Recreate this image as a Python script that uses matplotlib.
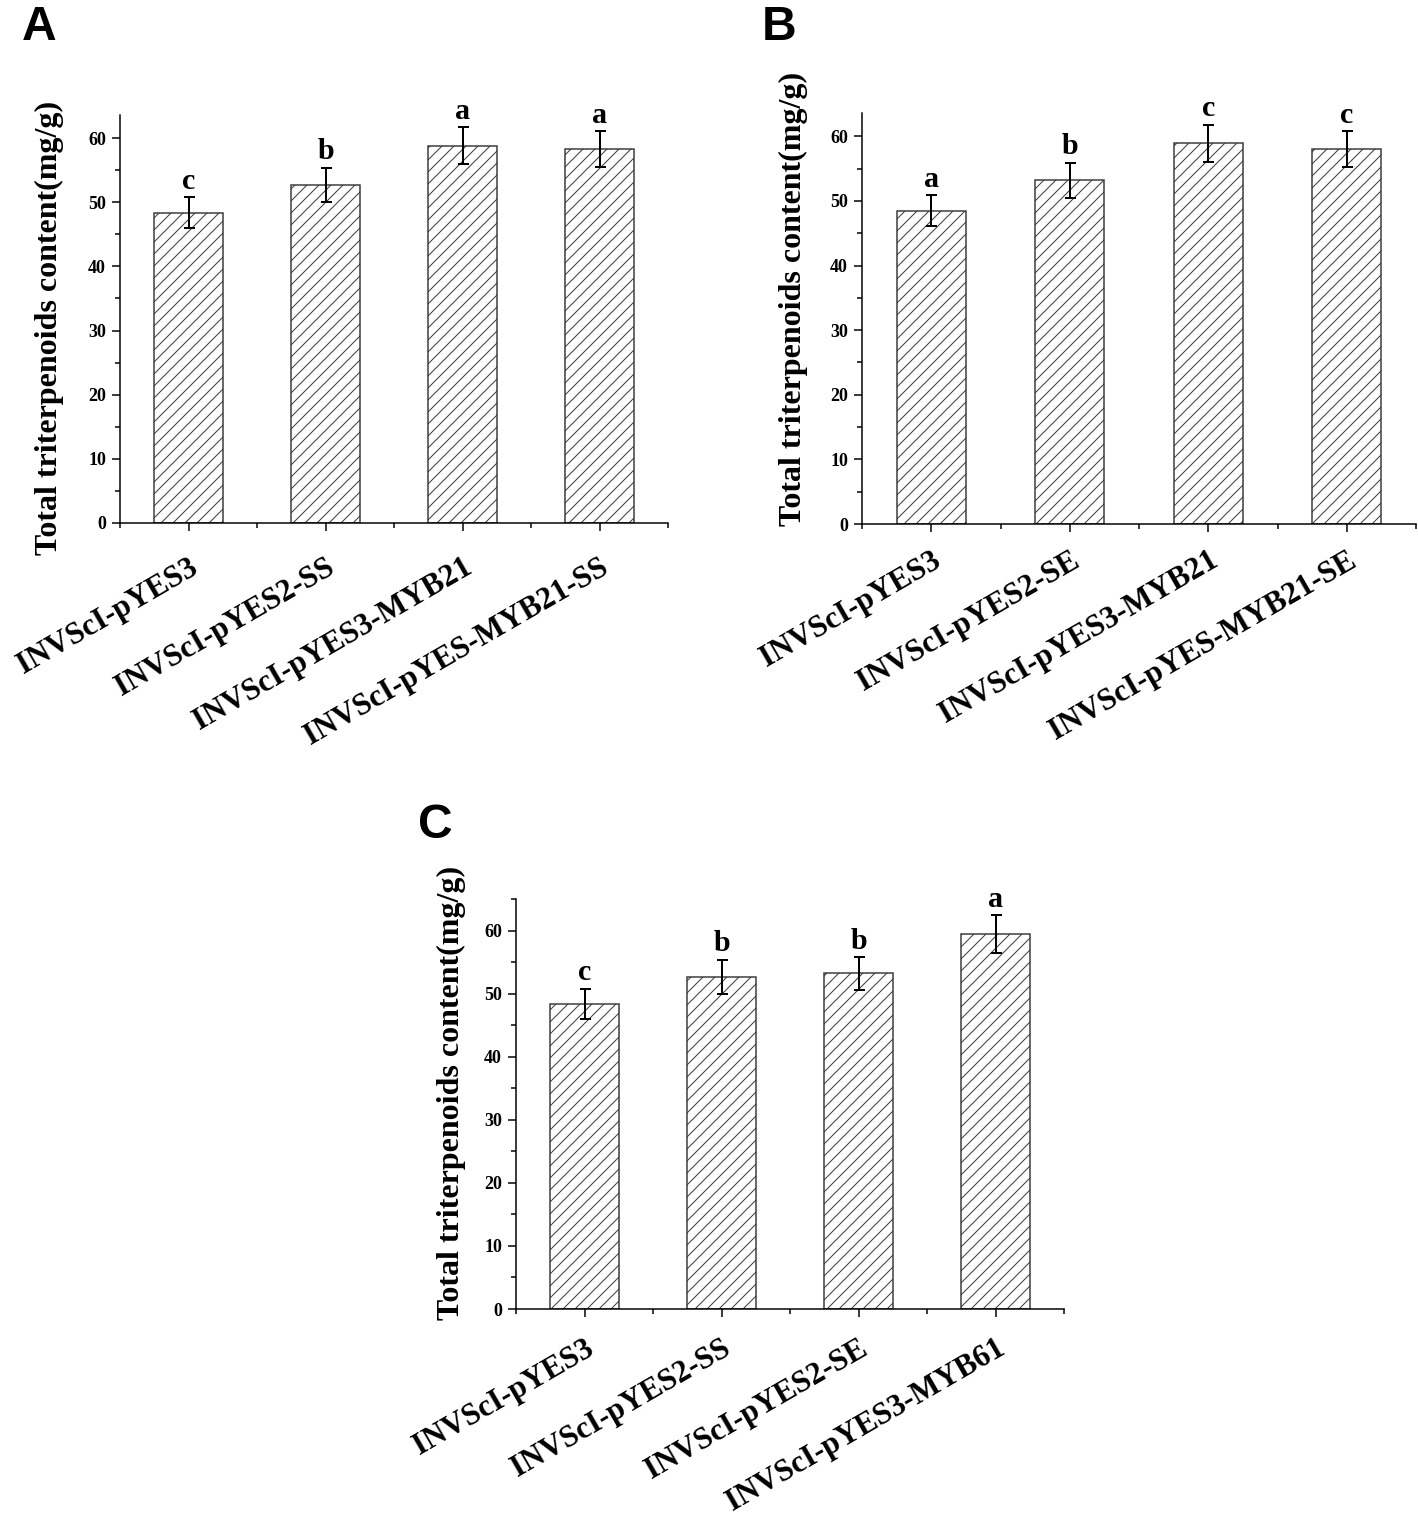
import numpy as np
import matplotlib
matplotlib.use("Agg")
import matplotlib.pyplot as plt
from matplotlib.ticker import MultipleLocator

# data
labels_a = ["INVScI-pYES3", "INVScI-pYES2-SS", "INVScI-pYES3-MYB21", "INVScI-pYES-MYB21-SS"]
values_a = [48.4, 52.7, 58.8, 58.3]
errors_a = [2.4, 2.7, 2.9, 2.8]
letters_a = ["c", "b", "a", "a"]

labels_b = ["INVScI-pYES3", "INVScI-pYES2-SE", "INVScI-pYES3-MYB21", "INVScI-pYES-MYB21-SE"]
values_b = [48.5, 53.2, 58.9, 58.0]
errors_b = [2.4, 2.7, 2.9, 2.8]
letters_b = ["a", "b", "c", "c"]

labels_c = ["INVScI-pYES3", "INVScI-pYES2-SS", "INVScI-pYES2-SE", "INVScI-pYES3-MYB61"]
values_c = [48.4, 52.7, 53.2, 59.5]
errors_c = [2.4, 2.7, 2.6, 3.0]
letters_c = ["c", "b", "b", "a"]

ylabel = "Total triterpenoids content(mg/g)"

plt.rcParams['font.family'] = ['Liberation Serif', 'DejaVu Serif']
plt.rcParams['font.weight'] = 'bold'
plt.rcParams['hatch.linewidth'] = 1.0

W, H = 1418, 1519
DPI = 72  # 1 pt == 1 px
fig = plt.figure(figsize=(W / DPI, H / DPI), dpi=DPI)


def px_axes(left, top, right, bottom):
    return fig.add_axes([left / W, 1 - bottom / H, (right - left) / W, (bottom - top) / H])


def panel(ax, labels, values, errors, letters, ymax, lab_pad, ylab_xy):
    x = np.arange(1, len(values) + 1)
    ax.bar(x, values, width=0.5, color='white', edgecolor='#3a3a3a',
           linewidth=1.5, hatch='//')
    ax.errorbar(x, values, yerr=errors, fmt='none', ecolor='black',
                elinewidth=2, capsize=5.5, capthick=2)
    for xi, v, e, t in zip(x, values, errors, letters):
        ax.text(xi, v + e + 1.3, t, ha='center', va='baseline',
                fontsize=30, fontweight='bold')
    ax.set_xlim(0.5, len(values) + 0.5)
    ax.set_ylim(0, ymax)
    ax.spines['top'].set_visible(False)
    ax.spines['right'].set_visible(False)
    ax.spines['left'].set_linewidth(1.5)
    ax.spines['bottom'].set_linewidth(1.5)
    ax.yaxis.set_major_locator(MultipleLocator(10))
    ax.yaxis.set_minor_locator(MultipleLocator(5))
    ax.set_xticks(x)
    ax.xaxis.set_minor_locator(MultipleLocator(0.5))
    ax.set_xticklabels(labels, rotation=30, ha='right', va='top',
                       rotation_mode='anchor', fontsize=31, fontweight='bold')
    ax.tick_params(axis='x', which='major', direction='out', length=8, width=1.5, pad=lab_pad)
    ax.tick_params(axis='y', which='major', direction='out', length=8, width=1.5,
                   pad=6, labelsize=18)
    ax.tick_params(which='minor', direction='out', length=5, width=1.5)
    ax.text(ylab_xy[0], ylab_xy[1], ylabel, rotation=90, ha='center', va='center',
            fontsize=32, fontweight='bold', transform=fig.transFigure)


ax_a = px_axes(120, 115, 668, 523)
panel(ax_a, labels_a, values_a, errors_a, letters_a, 63.6, 22, (49 / W, 1 - 328 / H))

ax_b = px_axes(862, 113, 1416, 524)
panel(ax_b, labels_b, values_b, errors_b, letters_b, 63.6, 14, (793 / W, 1 - 299 / H))

ax_c = px_axes(516, 899, 1064, 1309)
panel(ax_c, labels_c, values_c, errors_c, letters_c, 65, 17, (451 / W, 1 - 1093 / H))

for s, (px, py) in zip("ABC", [(22, 5), (762, 5), (418, 803)]):
    fig.text(px / W, 1 - py / H, s, ha='left', va='top', fontsize=48,
             fontweight='bold', family=['Liberation Sans', 'DejaVu Sans'])

fig.savefig("out.png", dpi=DPI)
